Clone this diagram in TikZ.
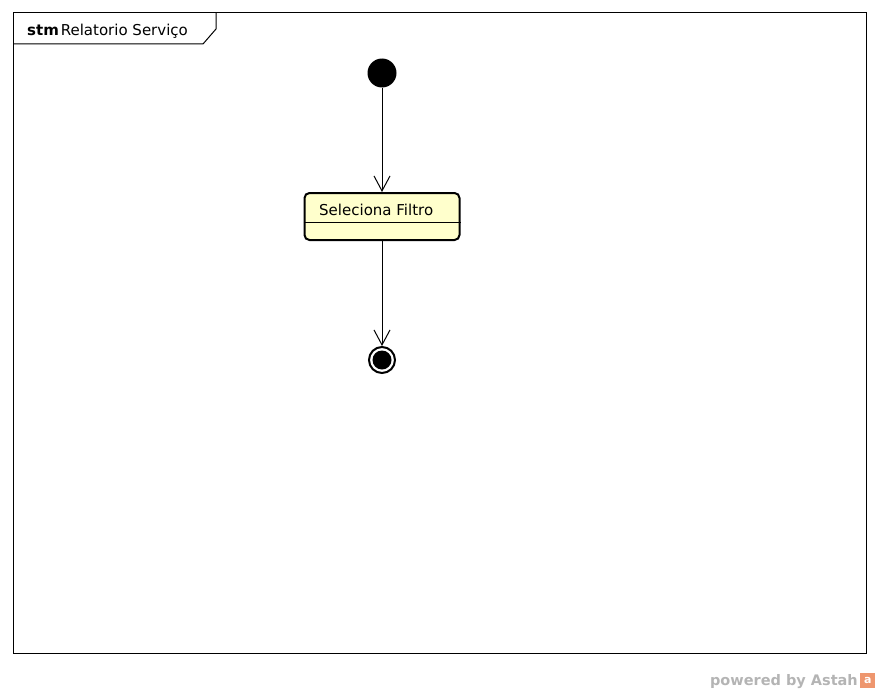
\documentclass[tikz,border=0pt]{standalone}
\usepackage{fontspec}
\setmainfont{DejaVu Sans}
\usetikzlibrary{arrows.meta}
\definecolor{statefill}{RGB}{255,255,204}
\definecolor{astahgray}{RGB}{180,180,180}
\definecolor{astahorange}{RGB}{238,150,110}
\tikzset{
  trans/.style={line width=1pt, -{Straight Barb[length=15pt,width=16pt,line width=1pt]}},
  statebox/.style={draw, line width=2pt, rounded corners=5pt, fill=statefill, minimum width=155pt, minimum height=47pt, inner sep=0pt},
  txt/.style={inner sep=0pt, font=\fontsize{15}{17}\selectfont}
}
\begin{document}
\begin{tikzpicture}[x=1pt, y=-1pt]
\useasboundingbox (0,0) rectangle (880,693);

% frame
\draw[line width=1pt] (13,13) rectangle (866,653);
\draw[line width=1pt] (216,13) -- (216,29) -- (203,44) -- (13,44);
\node[txt, anchor=base west] (kind) at (27,36) {\textbf{stm}};
\node[txt, anchor=base west] (title) at ([xshift=1.5pt]kind.base east) {Relatorio Serviço};

% states
\node[circle, fill=black, minimum size=29pt, inner sep=0pt] (init) at (382,73) {};
\node[statebox] (filtro) at (382,216.5) {};
\draw[line width=1pt] (filtro.west |- 0,222) -- (filtro.east |- 0,222);
\node[txt, anchor=base west] (filtrolbl) at (319,215) {Seleciona Filtro};
\node[circle, draw, line width=2pt, fill=white, minimum size=26pt, inner sep=0pt] (final) at (382,360) {};
\node[circle, fill=black, minimum size=19pt, inner sep=0pt] (finalin) at (382,360) {};

% transitions
\draw[trans] (init) -- (filtro);
\draw[trans] (filtro) -- (final);

% -------- footer -----------
\node[anchor=base east, inner sep=0pt, text=astahgray, font=\fontsize{14.5}{16}\selectfont\bfseries] (powered) at (858,685) {powered by Astah};
\node[anchor=west, fill=astahorange, text=white, inner sep=0pt, minimum width=15pt, minimum height=15pt, font=\fontsize{11}{11}\selectfont\bfseries] (logo) at (860,680) {a};
\end{tikzpicture}
\end{document}
